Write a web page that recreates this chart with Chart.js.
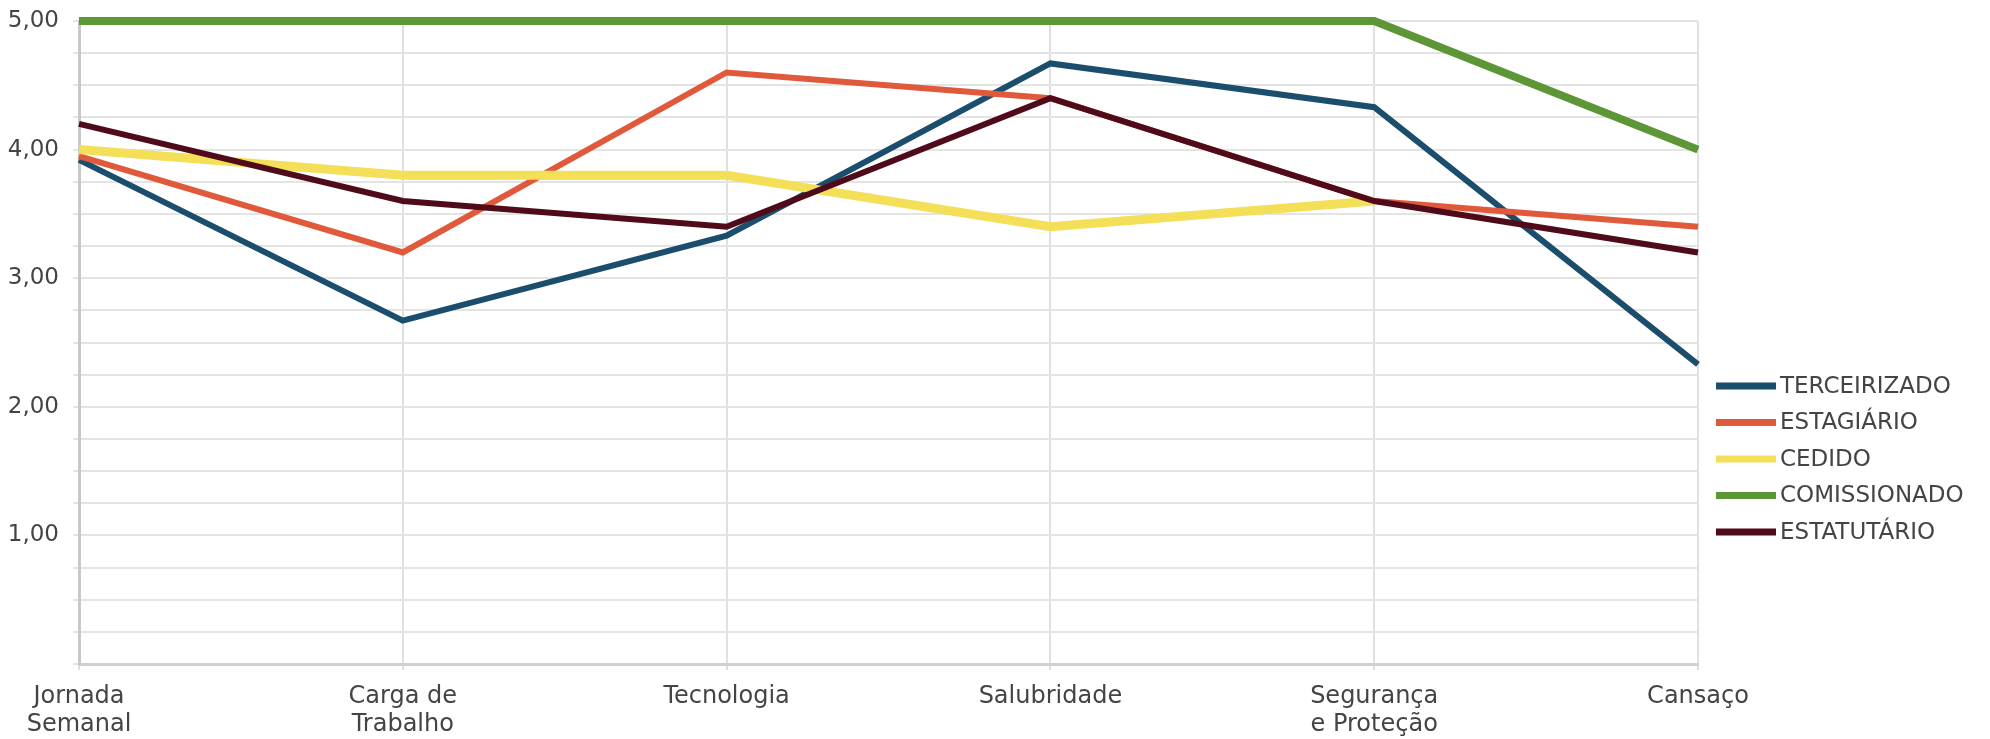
<!DOCTYPE html>
<html>
<head>
<meta charset="utf-8">
<script src="https://cdn.jsdelivr.net/npm/chart.js@4.4.1/dist/chart.umd.min.js"></script>
<style>
  html, body { margin: 0; padding: 0; background: #fff; }
  #wrap { width: 1990px; height: 739px; }
</style>
</head>
<body>
<div id="wrap"><canvas id="grafico" width="1990" height="739"></canvas></div>
<script>
// categorias e valores
const categorias = [
  ['Jornada', 'Semanal'],
  ['Carga de', 'Trabalho'],
  'Tecnologia',
  'Salubridade',
  ['Segurança', 'e Proteção'],
  'Cansaço'
];
const terceirizado = [3.92, 2.67, 3.33, 4.67, 4.33, 2.33];
const estagiario   = [3.95, 3.2, 4.6, 4.4, 3.6, 3.4];
const cedido       = [4.0, 3.8, 3.8, 3.4, 3.6, null];
const comissionado = [5.0, 5.0, 5.0, 5.0, 5.0, 4.0];
const estatutario  = [4.2, 3.6, 3.4, 4.4, 3.6, 3.2];
const rotulosY = [1, 2, 3, 4, 5];

const fonte = '"DejaVu Sans", sans-serif';

// legenda desenhada a direita, como no original
const legendaLateral = {
  id: 'legendaLateral',
  afterDraw(chart) {
    const c = chart.ctx;
    const ds = chart.data.datasets;
    c.save();
    ds.forEach((d, i) => {
      const y = 386 + i * 36.5;
      c.strokeStyle = d.borderColor;
      c.lineWidth = 7;
      c.beginPath();
      c.moveTo(1716, y);
      c.lineTo(1776, y);
      c.stroke();
      c.fillStyle = '#444';
      c.font = '23px ' + fonte;
      c.textBaseline = 'middle';
      c.textAlign = 'left';
      c.fillText(d.label, 1780, y + 1);
    });
    c.restore();
  }
};

const ctx = document.getElementById('grafico');

new Chart(ctx, {
  type: 'line',
  data: {
    labels: categorias,
    datasets: [
      { label: 'TERCEIRIZADO', data: terceirizado, borderColor: '#1b4d6c', borderWidth: 6, order: 4, clip: 12 },
      { label: 'ESTAGIÁRIO', data: estagiario, borderColor: '#e0593a', borderWidth: 6, order: 3, clip: 12 },
      { label: 'CEDIDO', data: cedido, borderColor: '#f4df58', borderWidth: 9, order: 2, clip: 12 },
      { label: 'COMISSIONADO', data: comissionado, borderColor: '#5c9636', borderWidth: 8, order: 1, clip: 12 },
      { label: 'ESTATUTÁRIO', data: estatutario, borderColor: '#500b1a', borderWidth: 6, order: 0, clip: 12 }
    ]
  },
  options: {
    responsive: false,
    animation: false,
    events: [],
    elements: {
      point: { radius: 0 },
      line: { tension: 0, fill: false, borderCapStyle: 'butt' }
    },
    layout: { padding: { top: 21, right: 292, left: 0, bottom: 0 } },
    plugins: {
      legend: { display: false },
      tooltip: { enabled: false }
    },
    scales: {
      x: {
        offset: false,
        grid: { color: '#e0e0e0', lineWidth: 2, drawTicks: true, tickLength: 6 },
        border: { color: '#d0d0d0', width: 3 },
        ticks: {
          color: '#444',
          font: { family: fonte, size: 24, lineHeight: 1.15 },
          maxRotation: 0,
          autoSkip: false,
          padding: 13
        },
        afterFit(scale) { scale.height = 75; }
      },
      y: {
        min: 0,
        max: 5,
        grid: { color: '#e4e4e4', lineWidth: 2, tickLength: 6 },
        border: { color: '#c8c8c8', width: 3 },
        ticks: {
          stepSize: 0.25,
          autoSkip: false,
          color: '#444',
          font: { family: fonte, size: 23 },
          padding: 14,
          callback: (v) => rotulosY.includes(v) ? v.toFixed(2).replace('.', ',') : ''
        },
        afterFit(scale) {
          scale.width = 79;
          scale.paddingTop = 0;
          scale.paddingBottom = 0;
        }
      }
    }
  },
  plugins: [legendaLateral]
});
</script>
</body>
</html>
